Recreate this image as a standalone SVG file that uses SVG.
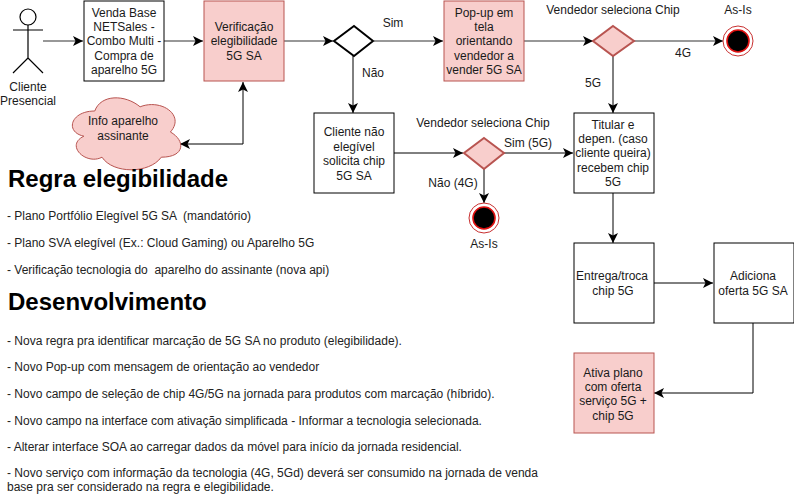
<svg xmlns="http://www.w3.org/2000/svg" width="794" height="503" viewBox="0 0 794 503">
<style>
text{font-family:"Liberation Sans",Arial,sans-serif;font-size:12px;fill:#1a1a1a;text-anchor:middle}
.p{fill:#f8cecc;stroke:#b85450;stroke-width:1}
.w{fill:#fff;stroke:#000;stroke-width:1}
.c{fill:none;stroke:#000;stroke-width:1}
.g{fill:none;stroke:#333;stroke-width:1.2}
.h{font-size:24px;font-weight:bold;text-anchor:start;fill:#000}
.l{font-size:12px;text-anchor:start;fill:#222;white-space:pre}
.e{fill:#000;stroke:#e01010;stroke-width:1.6}
.o{fill:#fff;stroke:#c83030;stroke-width:1}
</style>
<defs>
<marker id="a" markerUnits="userSpaceOnUse" markerWidth="11" markerHeight="10" refX="10" refY="5" orient="auto-start-reverse"><path d="M0 0L10 5L0 10L2.5 5Z" fill="#000"/></marker>
</defs>
<rect width="794" height="503" fill="#fff"/>
<g id="connectors">
<path class="g" d="M43 41H83" marker-end="url(#a)"/>
<path class="g" d="M164 41H203" marker-end="url(#a)"/>
<path class="g" d="M283 41H333" marker-end="url(#a)"/>
<path class="g" d="M374 41H443" marker-end="url(#a)"/>
<path class="g" d="M523 41H593" marker-end="url(#a)"/>
<path class="g" d="M634 41H723" marker-end="url(#a)"/>
<path class="c" d="M353 56V113" marker-end="url(#a)"/>
<path class="c" d="M393 153H463" marker-end="url(#a)"/>
<path class="c" d="M504 153H573" marker-end="url(#a)"/>
<path class="c" d="M484 169V203" marker-end="url(#a)"/>
<path class="c" d="M613 56V113" marker-end="url(#a)"/>
<path class="c" d="M613 193V243" marker-end="url(#a)"/>
<path class="c" d="M653 283H713" marker-end="url(#a)"/>
<path class="c" d="M753 323V393H654" marker-end="url(#a)"/>
<path class="c" d="M180 144H243V82" marker-start="url(#a)" marker-end="url(#a)"/>
</g>
<g id="actor" fill="none" stroke="#000" stroke-width="1.2">
<circle cx="28" cy="17" r="8"/>
<path d="M28 25V58M13 30H43M28 58L13 73M28 58L43 73"/>
</g>
<g id="actor-label"><text x="28" y="91">Cliente</text><text x="28" y="105">Presencial</text></g>
<g id="venda"><rect class="w" x="84" y="1" width="80" height="80"/>
<text x="124" y="17">Venda Base</text><text x="124" y="31">NETSales -</text><text x="124" y="45">Combo Multi -</text><text x="124" y="60">Compra de</text><text x="124" y="74">aparelho 5G</text></g>
<g id="verificacao"><rect class="p" x="204" y="1" width="80" height="80"/>
<text x="244" y="31">Verificação</text><text x="244" y="45">elegibilidade</text><text x="244" y="60">5G SA</text></g>
<g id="info"><path class="p" d="M94.750 111C70.550 111 64.500 132 83.860 136.200C64.500 145.400 86.280 165.600 102 157.200C112.900 174 149.200 174 161.300 157.200C185.500 157.200 185.500 140.400 170.400 132C185.500 115.200 161.300 98.400 140.100 106.800C125 94.200 100.800 94.200 94.750 111Z"/>
<text x="123" y="125">Info aparelho</text><text x="123" y="140">assinante</text></g>
<g id="dec1"><path fill="#fff" stroke="#000" stroke-width="2" d="M354 26L373 41L354 56L334 41Z"/></g>
<text x="393" y="27">Sim</text>
<text x="373" y="77">Não</text>
<g id="popup"><rect class="p" x="444" y="1" width="80" height="80"/>
<text x="484" y="17">Pop-up em</text><text x="484" y="31">tela</text><text x="484" y="45">orientando</text><text x="484" y="60">vendedor a</text><text x="484" y="74">vender 5G SA</text></g>
<text x="613" y="14">Vendedor seleciona Chip</text>
<g id="dec2"><path class="p" style="stroke-width:2" d="M613 26L634 41L613 56L593 41Z"/></g>
<text x="683" y="57">4G</text>
<text x="593" y="87">5G</text>
<text x="738" y="14">As-Is</text>
<g id="end1"><circle class="o" cx="738" cy="41" r="15"/><circle class="e" cx="738" cy="41" r="11"/></g>
<g id="cliente"><rect class="w" x="314" y="113" width="80" height="80"/>
<text x="354" y="136">Cliente não</text><text x="354" y="151">elegível</text><text x="354" y="165">solicita chip</text><text x="354" y="180">5G SA</text></g>
<text x="483" y="127">Vendedor seleciona Chip</text>
<g id="dec3"><path class="p" style="stroke-width:2" d="M484 138L504 153L484 169L464 153Z"/></g>
<text x="528" y="147">Sim (5G)</text>
<text x="453" y="187">Não (4G)</text>
<g id="end2"><circle class="o" cx="484" cy="218" r="15"/><circle class="e" cx="484" cy="218" r="11"/></g>
<text x="484" y="248">As-Is</text>
<g id="titular"><rect class="w" x="574" y="113" width="80" height="80"/>
<text x="613" y="129">Titular e</text><text x="613" y="143">depen. (caso</text><text x="613" y="157">cliente queira)</text><text x="613" y="172">recebem chip</text><text x="613" y="186">5G</text></g>
<g id="entrega"><rect class="w" x="574" y="243" width="80" height="80"/>
<text x="612" y="280">Entrega/troca</text><text x="613" y="295">chip 5G</text></g>
<g id="adiciona"><rect class="w" x="714" y="243" width="80" height="80"/>
<text x="753" y="280">Adiciona</text><text x="753" y="295">oferta 5G SA</text></g>
<g id="ativa"><rect class="p" x="574" y="353" width="80" height="80"/>
<text x="613" y="377">Ativa plano</text><text x="613" y="391">com oferta</text><text x="613" y="405">serviço 5G +</text><text x="613" y="420">chip 5G</text></g>
<g id="notes">
<text class="h" x="8" y="187">Regra elegibilidade</text>
<text class="l" x="7" y="220">- Plano Portfólio Elegível 5G SA  (mandatório)</text>
<text class="l" x="7" y="247">- Plano SVA elegível (Ex.: Cloud Gaming) ou Aparelho 5G</text>
<text class="l" x="7" y="274">- Verificação tecnologia do  aparelho do assinante (nova api)</text>
<text class="h" x="8" y="310">Desenvolvimento</text>
<text class="l" x="7" y="345">- Nova regra pra identificar marcação de 5G SA no produto (elegibilidade).</text>
<text class="l" x="7" y="371">- Novo Pop-up com mensagem de orientação ao vendedor</text>
<text class="l" x="7" y="398">- Novo campo de seleção de chip 4G/5G na jornada para produtos com marcação (híbrido).</text>
<text class="l" x="7" y="425">- Novo campo na interface com ativação simplificada - Informar a tecnologia selecionada.</text>
<text class="l" x="7" y="451">- Alterar interface SOA ao carregar dados da móvel para início da jornada residencial.</text>
<text class="l" x="7" y="477">- Novo serviço com informação da tecnologia (4G, 5Gd) deverá ser consumido na jornada de venda</text>
<text class="l" x="7" y="491">base pra ser considerado na regra e elegibilidade.</text>
</g>
</svg>
